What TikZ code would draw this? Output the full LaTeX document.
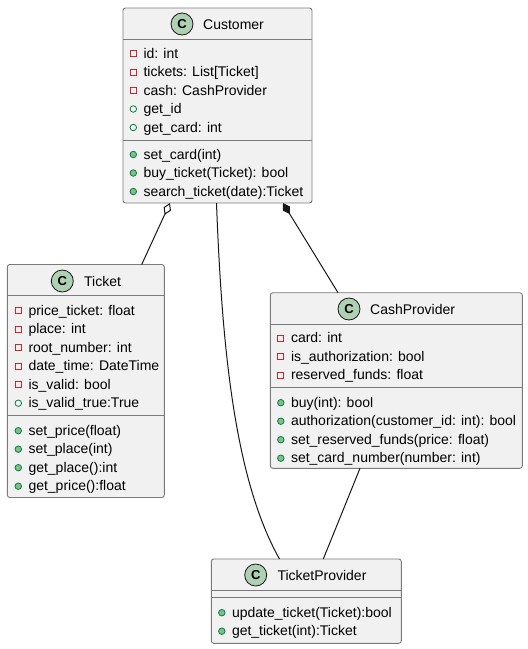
\documentclass[tikz,border=0pt]{standalone}
\usepackage{fontspec}
\setmainfont{Liberation Sans}
\usetikzlibrary{arrows.meta}
\definecolor{boxfill}{HTML}{F1F1F1}
\definecolor{umlline}{HTML}{181818}
\definecolor{boxline}{HTML}{7A7A7A}
\definecolor{privred}{HTML}{C82930}
\definecolor{pubgreen}{HTML}{038048}
\definecolor{pubfill}{HTML}{84BE84}
\definecolor{spotfill}{HTML}{ADD1B2}
\tikzset{
 classbox/.style={draw=boxline, fill=boxfill, line width=0.9pt, rounded corners=2.5pt, anchor=north west, inner sep=0pt, outer sep=0pt},
 sepline/.style={draw=boxline, line width=0.9pt},
 spot/.style={circle, draw=umlline, fill=spotfill, line width=0.8pt, minimum size=22pt, inner sep=0pt, font=\fontsize{13}{13}\selectfont\bfseries},
 title/.style={anchor=base west, inner sep=0pt, font=\fontsize{14}{16}\selectfont},
 rowtext/.style={anchor=base west, inner sep=0pt, font=\fontsize{14}{16}\selectfont},
 privicon/.style={rectangle, draw=privred, line width=0.8pt, minimum size=6pt, inner sep=0pt},
 pubficon/.style={circle, draw=pubgreen, line width=0.8pt, minimum size=6.5pt, inner sep=0pt},
 pubmicon/.style={circle, draw=pubgreen, fill=pubfill, line width=0.8pt, minimum size=6.5pt, inner sep=0pt},
 link/.style={draw=umlline, line width=1pt},
}
\newcommand\umlrow[5]{%
 \node[#1] (#2i) at (#3,#4) {};
 \node[rowtext] (#2) at (#3+10,#4+4.5) {#5};}
\begin{document}
\begin{tikzpicture}[x=1pt,y=-1pt]
\useasboundingbox (0,0) rectangle (528,649);
% Customer
\node[classbox, minimum width=189pt, minimum height=195pt] (customer) at (123,8) {};
\draw[sepline] (123,39) -- (312,39);
\draw[sepline] (123,140) -- (312,140);
\node[spot] (spotc) at (182,24) {C};
\node[title] (tcust) at (203,29) {Customer};
\umlrow{privicon}{c1}{133.3}{53.5}{id: int}
\umlrow{privicon}{c2}{133.3}{72}{tickets: List[Ticket]}
\umlrow{privicon}{c3}{133.3}{90.5}{cash: CashProvider}
\umlrow{pubficon}{c4}{133.3}{109}{get\_id}
\umlrow{pubficon}{c5}{133.3}{127.5}{get\_card: int}
\umlrow{pubmicon}{c6}{133.3}{154.5}{set\_card(int)}
\umlrow{pubmicon}{c7}{133.3}{173}{buy\_ticket(Ticket): bool}
\umlrow{pubmicon}{c8}{133.3}{191.5}{search\_ticket(date):Ticket}
% Ticket
\node[classbox, minimum width=157pt, minimum height=233pt] (ticket) at (7.3,264.5) {};
\draw[sepline] (7.3,295) -- (164.3,295);
\draw[sepline] (7.3,415) -- (164.3,415);
\node[spot] (spott) at (62.3,281) {C};
\node[title] (tticket) at (84,286) {Ticket};
\umlrow{privicon}{t1}{18.3}{310.7}{price\_ticket: float}
\umlrow{privicon}{t2}{18.3}{329.2}{place: int}
\umlrow{privicon}{t3}{18.3}{347.7}{root\_number: int}
\umlrow{privicon}{t4}{18.3}{366.2}{date\_time: DateTime}
\umlrow{privicon}{t5}{18.3}{384.7}{is\_valid: bool}
\umlrow{pubficon}{t6}{18.3}{403.2}{is\_valid\_true:True}
\umlrow{pubmicon}{t7}{18.3}{430.7}{set\_price(float)}
\umlrow{pubmicon}{t8}{18.3}{449.2}{set\_place(int)}
\umlrow{pubmicon}{t9}{18.3}{467.7}{get\_place():int}
\umlrow{pubmicon}{t10}{18.3}{486.2}{get\_price():float}
% CashProvider
\node[classbox, minimum width=252pt, minimum height=175.6pt] (cashp) at (270.3,292.7) {};
\draw[sepline] (270.3,324) -- (522.3,324);
\draw[sepline] (270.3,387.3) -- (522.3,387.3);
\node[spot] (spotp) at (349,309) {C};
\node[title] (tcash) at (370,314) {CashProvider};
\umlrow{privicon}{p1}{280.8}{338.3}{card: int}
\umlrow{privicon}{p2}{280.8}{356.8}{is\_authorization: bool}
\umlrow{privicon}{p3}{280.8}{375.3}{reserved\_funds: float}
\umlrow{pubmicon}{p4}{280.8}{402.7}{buy(int): bool}
\umlrow{pubmicon}{p5}{280.8}{421.2}{authorization(customer\_id: int): bool}
\umlrow{pubmicon}{p6}{280.8}{439.7}{set\_reserved\_funds(price: float)}
\umlrow{pubmicon}{p7}{280.8}{458.2}{set\_card\_number(number: int)}
% TicketProvider
\node[classbox, minimum width=190pt, minimum height=84.3pt] (tprov) at (211.3,559) {};
\draw[sepline] (211.3,590) -- (401.3,590);
\draw[sepline] (211.3,597.3) -- (401.3,597.3);
\node[spot] (spotv) at (255.7,575) {C};
\node[title] (ttprov) at (277.3,580) {TicketProvider};
\umlrow{pubmicon}{v1}{221.8}{612.7}{update\_ticket(Ticket):bool}
\umlrow{pubmicon}{v2}{221.8}{631.2}{get\_ticket(int):Ticket}
% connectors
\draw[link, {Diamond[open, length=13pt, width=8pt]}-] ([xshift=47pt]customer.south west) -- ([xshift=134.4pt]ticket.north west);
\draw[link, {Diamond[length=13pt, width=8pt]}-] ([xshift=160pt]customer.south west) -- ([xshift=67.7pt]cashp.north west);
\draw[link] ([xshift=93.5pt]customer.south west) .. controls (222,350) and (235,480) .. ([xshift=68.2pt]tprov.north west);
\draw[link] ([xshift=89.7pt]cashp.south west) -- ([xshift=112pt]tprov.north west);
\end{tikzpicture}
\end{document}
